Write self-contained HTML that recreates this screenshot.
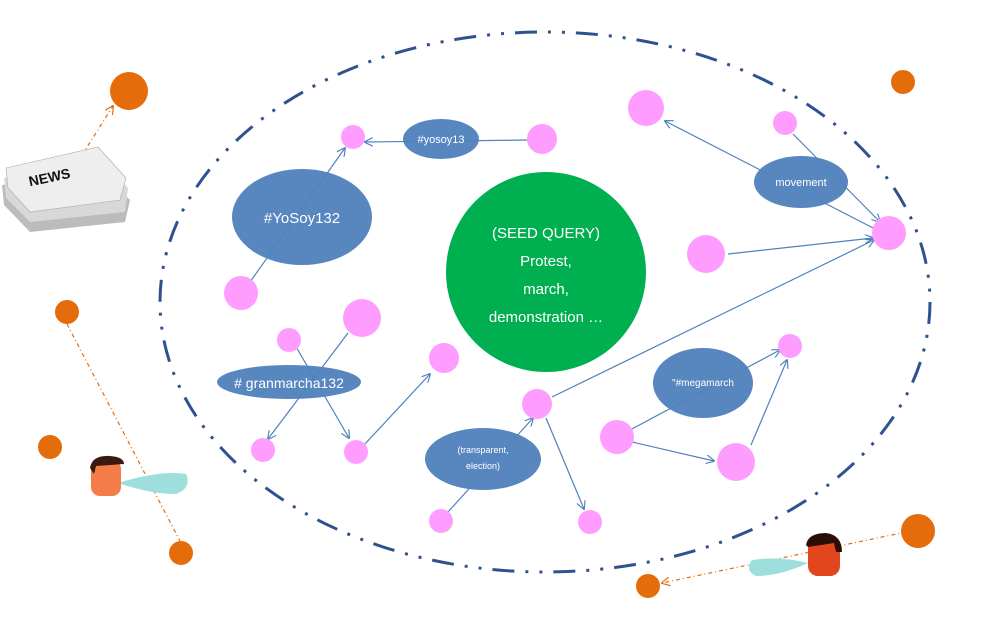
<!DOCTYPE html>
<html><head><meta charset="utf-8"><style>
html,body{margin:0;padding:0;background:#fff;width:987px;height:620px;overflow:hidden}
svg{display:block;font-family:"Liberation Sans",sans-serif}
</style></head><body>
<svg width="987" height="620" viewBox="0 0 987 620" xmlns="http://www.w3.org/2000/svg">
<defs>
<marker id="a" viewBox="0 0 10 10" refX="9" refY="5" markerWidth="9" markerHeight="9" orient="auto" markerUnits="userSpaceOnUse"><path d="M0,0 L10,5 L0,10" fill="none" stroke="#4F81BD" stroke-width="1.3"/></marker>
<marker id="o" viewBox="0 0 10 10" refX="9" refY="5" markerWidth="9" markerHeight="9" orient="auto" markerUnits="userSpaceOnUse"><path d="M0,0 L10,5 L0,10" fill="none" stroke="#E46C0A" stroke-width="1.3"/></marker>
</defs>
<ellipse cx="545" cy="302" rx="385" ry="270" fill="none" stroke="#2F528F" stroke-width="3" stroke-dasharray="22 11 3 11 3 11"/>
<g stroke="#E46C0A" stroke-width="1.2" stroke-dasharray="4 3 1 3" fill="none">
<line x1="82" y1="155" x2="113" y2="106" marker-end="url(#o)"/>
<line x1="67" y1="324" x2="180" y2="541"/>
<line x1="906" y1="532" x2="662" y2="583" marker-end="url(#o)"/>
</g>
<g stroke="#4F81BD" stroke-width="1.2" fill="none" marker-end="url(#a)">
<line x1="528" y1="140" x2="365" y2="142"/>
<line x1="250" y1="282" x2="345" y2="148"/>
<line x1="295" y1="345" x2="349" y2="438"/>
<line x1="348" y1="333" x2="268" y2="439"/>
<line x1="364" y1="445" x2="430" y2="374"/>
<line x1="448" y1="512" x2="533" y2="418"/>
<line x1="546" y1="418" x2="584" y2="509"/>
<line x1="552" y1="397" x2="874" y2="240"/>
<line x1="728" y1="254" x2="873" y2="238"/>
<line x1="793" y1="134" x2="880" y2="222"/>
<line x1="877" y1="230" x2="665" y2="121"/>
<line x1="630" y1="430" x2="780" y2="350"/>
<line x1="632" y1="442" x2="714" y2="461"/>
<line x1="751" y1="445" x2="787" y2="360"/>
</g>
<g fill="#FF9CFF">
<circle cx="353" cy="137" r="12"/><circle cx="542" cy="139" r="15"/><circle cx="241" cy="293" r="17"/>
<circle cx="289" cy="340" r="12"/><circle cx="362" cy="318" r="19"/><circle cx="444" cy="358" r="15"/>
<circle cx="263" cy="450" r="12"/><circle cx="356" cy="452" r="12"/><circle cx="537" cy="404" r="15"/>
<circle cx="441" cy="521" r="12"/><circle cx="590" cy="522" r="12"/><circle cx="646" cy="108" r="18"/>
<circle cx="785" cy="123" r="12"/><circle cx="889" cy="233" r="17"/><circle cx="706" cy="254" r="19"/>
<circle cx="790" cy="346" r="12"/><circle cx="617" cy="437" r="17"/><circle cx="736" cy="462" r="19"/>
</g>
<g fill="#E46C0A">
<circle cx="129" cy="91" r="19"/><circle cx="67" cy="312" r="12"/><circle cx="50" cy="447" r="12"/>
<circle cx="181" cy="553" r="12"/><circle cx="903" cy="82" r="12"/><circle cx="918" cy="531" r="17"/>
<circle cx="648" cy="586" r="12"/>
</g>
<g fill="#4F81BD" fill-opacity="0.95">
<ellipse cx="302" cy="217" rx="70" ry="48"/>
<ellipse cx="441" cy="139" rx="38" ry="20"/>
<ellipse cx="289" cy="382" rx="72" ry="17"/>
<ellipse cx="483" cy="459" rx="58" ry="31"/>
<ellipse cx="703" cy="383" rx="50" ry="35"/>
<ellipse cx="801" cy="182" rx="47" ry="26"/>
</g>
<circle cx="546" cy="272" r="100" fill="#00B050"/>
<g fill="#fff" text-anchor="middle">
<text x="302" y="223" font-size="15">#YoSoy132</text>
<text x="441" y="143" font-size="11">#yosoy13</text>
<text x="289" y="388" font-size="14">&#35; granmarcha132</text>
<text x="483" y="453" font-size="9">(transparent,</text>
<text x="483" y="469" font-size="9">election)</text>
<text x="703" y="386" font-size="10">"#megamarch</text>
<text x="801" y="186" font-size="11">movement</text>
<text x="546" y="238" font-size="15">(SEED QUERY)</text>
<text x="546" y="266" font-size="15">Protest,</text>
<text x="546" y="294" font-size="15">march,</text>
<text x="546" y="322" font-size="15">demonstration …</text>
</g>
<g>
<polygon points="2,185 100,170 130,200 125,222 30,232 4,205" fill="#bcbcbc"/>
<polygon points="4,178 100,158 128,188 125,212 30,222 6,198" fill="#d8d8d8"/>
<polygon points="6,168 98,147 126,178 120,200 30,212 8,188" fill="#eeeeee" stroke="#aaa" stroke-width="0.6"/>
<text x="28" y="182" font-size="14" font-weight="bold" fill="#111" transform="rotate(-12 50 175)">NEWS</text>
</g>
<path d="M118,483 Q160,470 186,474 Q192,488 176,494 Q150,494 118,483Z" fill="#9EDEDC"/>
<rect x="91" y="460" width="30" height="36" rx="9" fill="#F47C48"/>
<path d="M90,468 Q92,455 110,456 Q124,457 124,464 L96,466 L94,474Z" fill="#3a1a10"/>
<path d="M808,563 Q780,556 752,560 Q744,570 756,576 Q780,576 808,563Z" fill="#9EDEDC"/>
<rect x="808" y="538" width="32" height="38" rx="10" fill="#E2461E"/>
<path d="M806,545 Q808,533 826,533 Q842,535 842,552 L836,552 L834,543 L808,547Z" fill="#2a0f08"/>
</svg>
</body></html>
